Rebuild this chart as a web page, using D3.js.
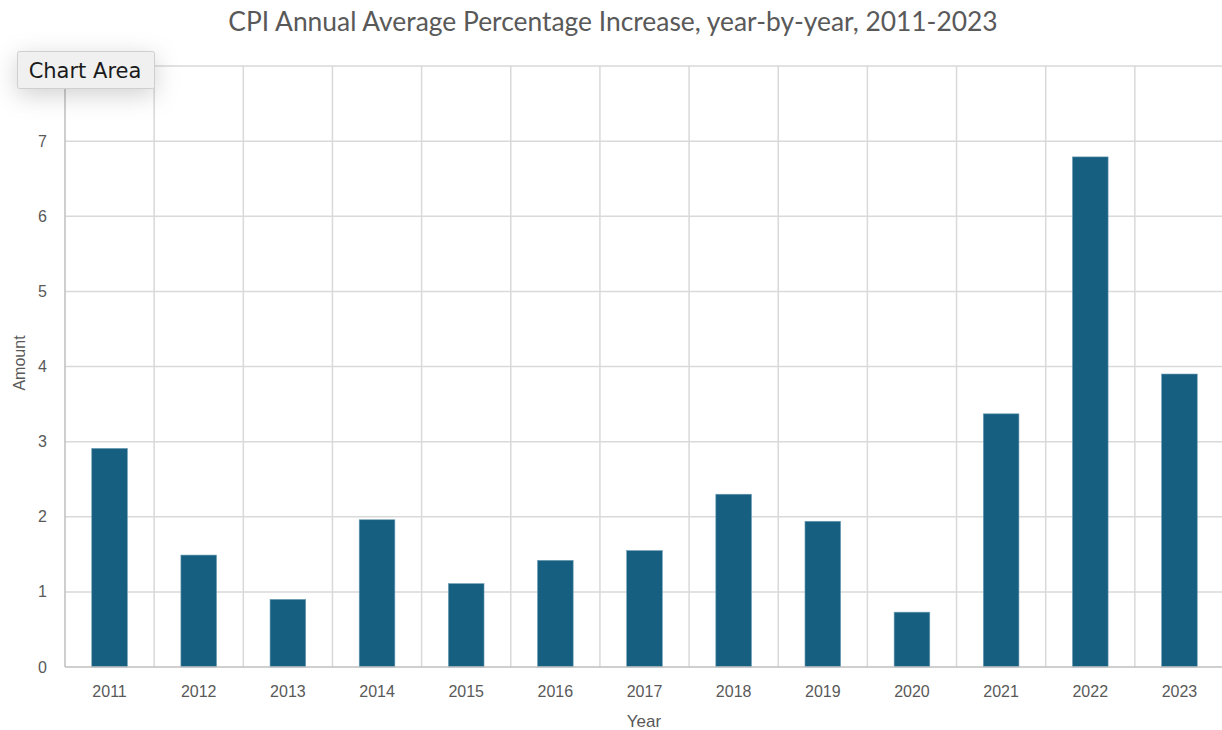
<!DOCTYPE html>
<html>
<head>
<meta charset="utf-8">
<script src="https://cdn.jsdelivr.net/npm/d3@7"></script>
<style>
	body { margin: 0; background: #fff; overflow: hidden; }
	svg { display: block; }
</style>
</head>
<body>
<svg id="chart" width="1222" height="730"></svg>
<script>
// data
const years = ['2011', '2012', '2013', '2014', '2015', '2016', '2017', '2018', '2019', '2020', '2021', '2022', '2023']
const cpi = [2.91, 1.49, 0.9, 1.96, 1.11, 1.42, 1.55, 2.3, 1.94, 0.73, 3.37, 6.79, 3.9]
const yTicks = [0, 1, 2, 3, 4, 5, 6, 7, 8]

const title = 'CPI Annual Average Percentage Increase, year-by-year, 2011-2023'
const titleFont = 'Lato, "Noto Sans", sans-serif'
const font = '"Liberation Sans", Arial, sans-serif'
const grey = '#595959'

const svg = d3.select('#chart')
const m = { left: 65, right: 1224, top: 66, bottom: 667 }

const x = d3.scaleBand().domain(years).range([m.left, m.right]).paddingInner(0).paddingOuter(0)
const y = d3.scaleLinear().domain([0, 8]).range([m.bottom, m.top])

// horizontal grid
svg.append('g')
	.selectAll('line')
	.data(yTicks.slice(1))
	.join('line')
	.attr('x1', m.left).attr('x2', m.right)
	.attr('y1', d => y(d)).attr('y2', d => y(d))
	.attr('stroke', '#d9d9d9').attr('stroke-width', 1.5)

// vertical grid at category borders
svg.append('g')
	.selectAll('line')
	.data(years.slice(1))
	.join('line')
	.attr('x1', d => x(d)).attr('x2', d => x(d))
	.attr('y1', m.top).attr('y2', m.bottom)
	.attr('stroke', '#d9d9d9').attr('stroke-width', 1.5)

// bars
const barW = x.bandwidth() * 0.4
svg.append('g')
	.selectAll('rect')
	.data(years.map((yr, i) => ({ yr, v: cpi[i] })))
	.join('rect')
	.attr('x', d => x(d.yr) + (x.bandwidth() - barW) / 2)
	.attr('width', barW)
	.attr('y', d => y(d.v))
	.attr('height', d => y(0) - y(d.v))
	.attr('fill', '#165f80')
	.attr('stroke', '#6f9fb6').attr('stroke-width', 0.6)

// axes lines
svg.append('line')
	.attr('x1', m.left).attr('x2', m.left).attr('y1', m.top).attr('y2', m.bottom)
	.attr('stroke', '#bfbfbf').attr('stroke-width', 1.5)
svg.append('line')
	.attr('x1', m.left).attr('x2', m.right).attr('y1', m.bottom).attr('y2', m.bottom)
	.attr('stroke', '#bfbfbf').attr('stroke-width', 1.5)

// y tick labels (8 sits behind the hover label in the picture)
svg.append('g')
	.selectAll('text')
	.data(yTicks.slice(0, 8))
	.join('text')
	.attr('x', 47).attr('y', d => y(d))
	.attr('dy', '0.35em')
	.attr('text-anchor', 'end')
	.attr('font-family', font).attr('font-size', 16).attr('fill', grey)
	.text(d => d)

// x tick labels
svg.append('g')
	.selectAll('text')
	.data(years)
	.join('text')
	.attr('x', d => x(d) + x.bandwidth() / 2).attr('y', 697)
	.attr('text-anchor', 'middle')
	.attr('font-family', font).attr('font-size', 16).attr('fill', grey)
	.text(d => d)

// axis titles
svg.append('text')
	.attr('x', 644).attr('y', 727)
	.attr('text-anchor', 'middle')
	.attr('font-family', font).attr('font-size', 17).attr('fill', grey)
	.text('Year')
svg.append('text')
	.attr('transform', 'translate(25,363) rotate(-90)')
	.attr('text-anchor', 'middle')
	.attr('font-family', font).attr('font-size', 16).attr('fill', grey)
	.text('Amount')

// chart title
svg.append('text')
	.attr('x', 613).attr('y', 31)
	.attr('text-anchor', 'middle')
	.attr('font-family', titleFont).attr('font-size', 26.4).attr('fill', grey)
	.text(title)

// "Chart Area" hover label
const defs = svg.append('defs')
const f = defs.append('filter').attr('id', 'shadow').attr('x', '-60%').attr('y', '-120%').attr('width', '220%').attr('height', '340%')
f.append('feDropShadow').attr('dx', 0).attr('dy', 6).attr('stdDeviation', 12).attr('flood-color', '#000').attr('flood-opacity', 0.18)

svg.append('rect')
	.attr('x', 17.5).attr('y', 51.5).attr('width', 137).attr('height', 37)
	.attr('rx', 2)
	.attr('fill', '#f0f0f0').attr('stroke', '#cfcfcf')
	.attr('filter', 'url(#shadow)')
svg.append('text')
	.attr('x', 85).attr('y', 78)
	.attr('text-anchor', 'middle')
	.attr('font-family', '"DejaVu Sans", sans-serif').attr('font-size', 21).attr('fill', '#1a1a1a')
	.text('Chart Area')
</script>
</body>
</html>
